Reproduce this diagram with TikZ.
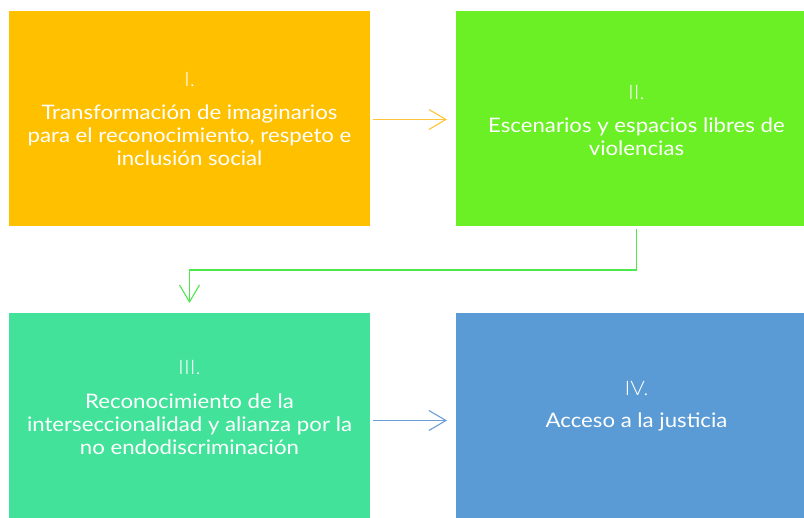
\documentclass[tikz,border=0pt]{standalone}
\usepackage{fontspec}
\setmainfont{Lato}[FakeStretch=1.11]
\newfontfamily\numfont{Lato Light}[FakeStretch=1.11]
\usetikzlibrary{arrows.meta}
\definecolor{cOrange}{HTML}{FFC000}
\definecolor{cGreen}{HTML}{6AF025}
\definecolor{cTeal}{HTML}{43E29B}
\definecolor{cBlue}{HTML}{5B9BD5}
\definecolor{aOrange}{HTML}{FFC43A}
\definecolor{aGreen}{HTML}{4EE84E}
\definecolor{aBlue}{HTML}{6A9FDA}
\begin{document}
\begin{tikzpicture}[x=1pt,y=-1pt,
  box/.style={draw=none,minimum width=361pt,minimum height=215pt,inner sep=0pt,anchor=north west},
  txt/.style={text=white,align=center,font=\fontsize{20}{23}\selectfont,inner sep=0pt},
  num/.style={text=white,font=\numfont\fontsize{20}{23}\selectfont,inner sep=0pt},
  conn/.style={line width=1.3pt,-{Straight Barb[length=17pt,width=20pt,line width=1.1pt]}}]
\useasboundingbox (0,0) rectangle (804,518);
\clip (0,0) rectangle (804,518);
\fill[white] (0,0) rectangle (804,518);
\node[box,fill=cOrange] (b1) at (9,11) {};
\node[box,fill=cGreen] (b2) at (456,11) {};
\node[box,fill=cTeal] (b3) at (9,313) {};
\node[box,fill=cBlue] (b4) at (456,313) {};
\node[num] (n1) at (189.5,80) {I.};
\node[txt] (t1) at (189.5,135.5) {Transformación de imaginarios\\para el reconocimiento, respeto e\\inclusión social};
\node[num] (n2) at (636.5,93) {II.};
\node[txt] (t2) at (636.5,136.5) {Escenarios y espacios libres de\\violencias};
\node[num] (n3) at (189.5,368) {III.};
\node[txt] (t3) at (189.5,424.5) {Reconocimiento de la\\interseccionalidad y alianza por la\\no endodiscriminación};
\node[num] (n4) at (636.5,389) {IV.};
\node[txt] (t4) at (636.5,421.5) {Acceso a la justicia};
\coordinate (a1s) at (373,119.5);
\coordinate (a1e) at (447,119.5);
\draw[conn,draw=aOrange] (a1s) -- (a1e);
\coordinate (a2s) at (636.5,229);
\coordinate (a2e) at (189.5,303);
\draw[conn,draw=aGreen] (a2s) -- (636.5,270) -| (a2e);
\coordinate (a3s) at (373,420.5);
\coordinate (a3e) at (447,420.5);
\draw[conn,draw=aBlue] (a3s) -- (a3e);
\end{tikzpicture}
\end{document}
